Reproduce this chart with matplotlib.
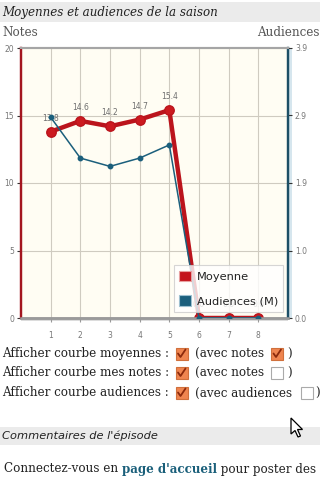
import matplotlib
matplotlib.use("Agg")
import matplotlib.pyplot as plt
from matplotlib.patches import Rectangle, Polygon, Patch
import numpy as np

# ---- data ----
episodes = [1, 2, 3, 4, 5, 6, 7, 8]
moyennes = [13.8, 14.6, 14.2, 14.7, 15.4, 0.0, 0.0, 0.0]
audiences = [2.90, 2.31, 2.19, 2.31, 2.50, 0.0, 0.0, 0.0]
left_ticks = [0, 5, 10, 15, 20]
right_ticks = [0.0, 0.975, 1.95, 2.925, 3.9]
right_ticklabels = ['0.0', '1.0', '1.9', '2.9', '3.9']
x_ticklabels = ['1', '2', '3', '4', '5', '6', '7', '8']

W, H = 320, 480
fig = plt.figure(figsize=(3.2, 4.8), dpi=100)
fig.patch.set_facecolor('white')

# page overlay in pixel coords
page = fig.add_axes([0, 0, 1, 1])
page.set_xlim(0, W)
page.set_ylim(H, 0)
page.axis('off')
page.patch.set_alpha(0)

serif = 'DejaVu Serif'
sans = 'DejaVu Sans'
txtc = '#222222'

# title band
page.add_patch(Rectangle((0, 2), W, 20, facecolor='#ebebeb', edgecolor='none'))
page.text(2, 12.5, 'Moyennes et audiences de la saison', family=serif, style='italic',
          fontsize=8.6, color=txtc, va='center', ha='left')
page.text(2, 32, 'Notes', family=serif, fontsize=8.6, color='#555555', va='center', ha='left')
page.text(257, 32, 'Audiences', family=serif, fontsize=8.6, color='#555555', va='center', ha='left')

# ---- chart ----
ax = fig.add_axes([21 / W, 1 - 318 / H, 267 / W, 270 / H])
ax.set_facecolor('#fffdf3')
ax.set_xlim(0, 9)
ax.set_ylim(0, 20)
ax2 = ax.twinx()
ax2.set_ylim(0, 3.9)

gridc = '#cfcbc0'
for xv in episodes:
    ax.axvline(xv, color=gridc, lw=0.8, zorder=0)
for yv in left_ticks[1:-1]:
    ax.axhline(yv, color=gridc, lw=0.8, zorder=0)

ax.set_xticks(episodes)
ax.set_xticklabels(x_ticklabels)
ax.set_yticks(left_ticks)
ax.tick_params(axis='x', colors='#999999', labelcolor='#777777', labelsize=5.5,
               length=3, width=0.8, pad=6)
ax.tick_params(axis='y', colors='#333333', labelcolor='#777777', labelsize=5.5,
               length=3, width=0.8, pad=2)
ax2.set_yticks(right_ticks)
ax2.set_yticklabels(right_ticklabels)
ax2.tick_params(axis='y', colors='#333333', labelcolor='#777777', labelsize=5.5,
                length=3, width=0.8, pad=2)

for a in (ax, ax2):
    a.spines['left'].set_color('#a3151f')
    a.spines['left'].set_linewidth(1.6)
    a.spines['right'].set_color('#1d4f66')
    a.spines['right'].set_linewidth(1.6)
    a.spines['bottom'].set_color('#9a9a9a')
    a.spines['bottom'].set_linewidth(1.8)
    a.spines['top'].set_color('#a5a5a5')
    a.spines['top'].set_linewidth(1.5)

# light shadow stripe right of right axis / below bottom axis
page.add_patch(Rectangle((289, 48), 3, 271, facecolor='#d6e6ee', edgecolor='none'))
page.add_patch(Rectangle((21, 319.2), 267, 1.8, facecolor='#dcdcdc', edgecolor='none'))

# moyenne line
ax.plot(episodes, moyennes, color='#bb141c', lw=3.2, marker='o', markersize=6.8,
        markerfacecolor='#cc1a20', markeredgecolor='#bb141c', zorder=3,
        solid_capstyle='round')
for xv, yv in zip(episodes, moyennes):
    ax.annotate(f'{yv:.1f}', (xv, yv), xytext=(0, 6.5), textcoords='offset points',
                ha='center', va='bottom', fontsize=5.5, color='#6f6f6f', zorder=4)

# audiences line
ax2.plot(episodes, audiences, color='#1b5f7c', lw=1.1, marker='o', markersize=3.2,
         markerfacecolor='#1b5f7c', markeredgecolor='#1b5f7c', zorder=3)

# legend
handles = [Patch(facecolor='#c4141c', edgecolor='#e8a0a0', lw=0.8),
           Patch(facecolor='#1b5f7c', edgecolor='#9ec0d0', lw=0.8)]
leg = ax2.legend(handles, ['Moyenne', 'Audiences (M)'], loc='lower right',
                 bbox_to_anchor=(0.983, 0.022), fontsize=8.2, frameon=True,
                 handlelength=1.05, handleheight=1.05, handletextpad=0.45,
                 labelspacing=1.15, borderpad=0.5, fancybox=False, borderaxespad=0)
leg.get_frame().set_facecolor('#ffffff')
leg.get_frame().set_alpha(0.8)
leg.get_frame().set_edgecolor('#cccccc')
leg.get_frame().set_linewidth(0.8)
for t in leg.get_texts():
    t.set_color('#222222')
leg.set_zorder(10)

# ---- checkboxes rows ----
def checkbox(x, y, checked):
    if checked:
        page.add_patch(Rectangle((x, y - 6), 12, 12, facecolor='#ef8550',
                                 edgecolor='#d0703c', lw=0.8))
        page.plot([x + 2.5, x + 5, x + 10], [y - 0.5, y + 3, y - 4.5], color='#8c2a0c',
                  lw=1.3, solid_capstyle='round', solid_joinstyle='round')
    else:
        page.add_patch(Rectangle((x, y - 6), 12, 12, facecolor='white',
                                 edgecolor='#aaaaaa', lw=0.8))

rows = [(354, 'Afficher courbe moyennes :', '(avec notes', True, 271, 287),
        (373, 'Afficher courbe mes notes :', '(avec notes', False, 271, 287),
        (393, 'Afficher courbe audiences :', '(avec audiences', False, 301, 315)]
for y, lab, sub, chk2, bx2, px in rows:
    page.text(2, y, lab, family=serif, fontsize=8.6, color=txtc, va='center', ha='left')
    checkbox(175.5, y, True)
    page.text(195, y, sub, family=serif, fontsize=8.6, color=txtc, va='center', ha='left')
    checkbox(bx2, y, chk2)
    page.text(px, y, ')', family=serif, fontsize=8.6, color=txtc, va='center', ha='left')

# comments band
page.add_patch(Rectangle((0, 427), W, 18, facecolor='#ebebeb', edgecolor='none'))
page.text(2, 436, "Commentaires de l'épisode", family=sans, style='italic', fontsize=8.2,
          color=txtc, va='center', ha='left')

# mouse cursor
cur = np.array([[0, 0], [0, 16], [4, 12.5], [7, 19], [9.5, 18], [6.5, 11.5], [11.5, 11.5]])
cur = cur * 1.0 + np.array([291, 418])
page.add_patch(Polygon(cur, closed=True, facecolor='white', edgecolor='black', lw=0.9,
                       zorder=20))

# last line
t1 = page.text(4, 469, 'Connectez-vous en ', family=serif, fontsize=8.6, color=txtc,
               va='center', ha='left')
t2 = page.annotate("page d'accueil", xycoords=t1, xy=(1, 0.5), va='center', ha='left',
                   family=serif, fontsize=8.6, color='#1a5f7a', weight='bold')
page.annotate(' pour poster des', xycoords=t2, xy=(1, 0.5), va='center', ha='left',
              family=serif, fontsize=8.6, color=txtc)

fig.savefig('out.png', dpi=100)
